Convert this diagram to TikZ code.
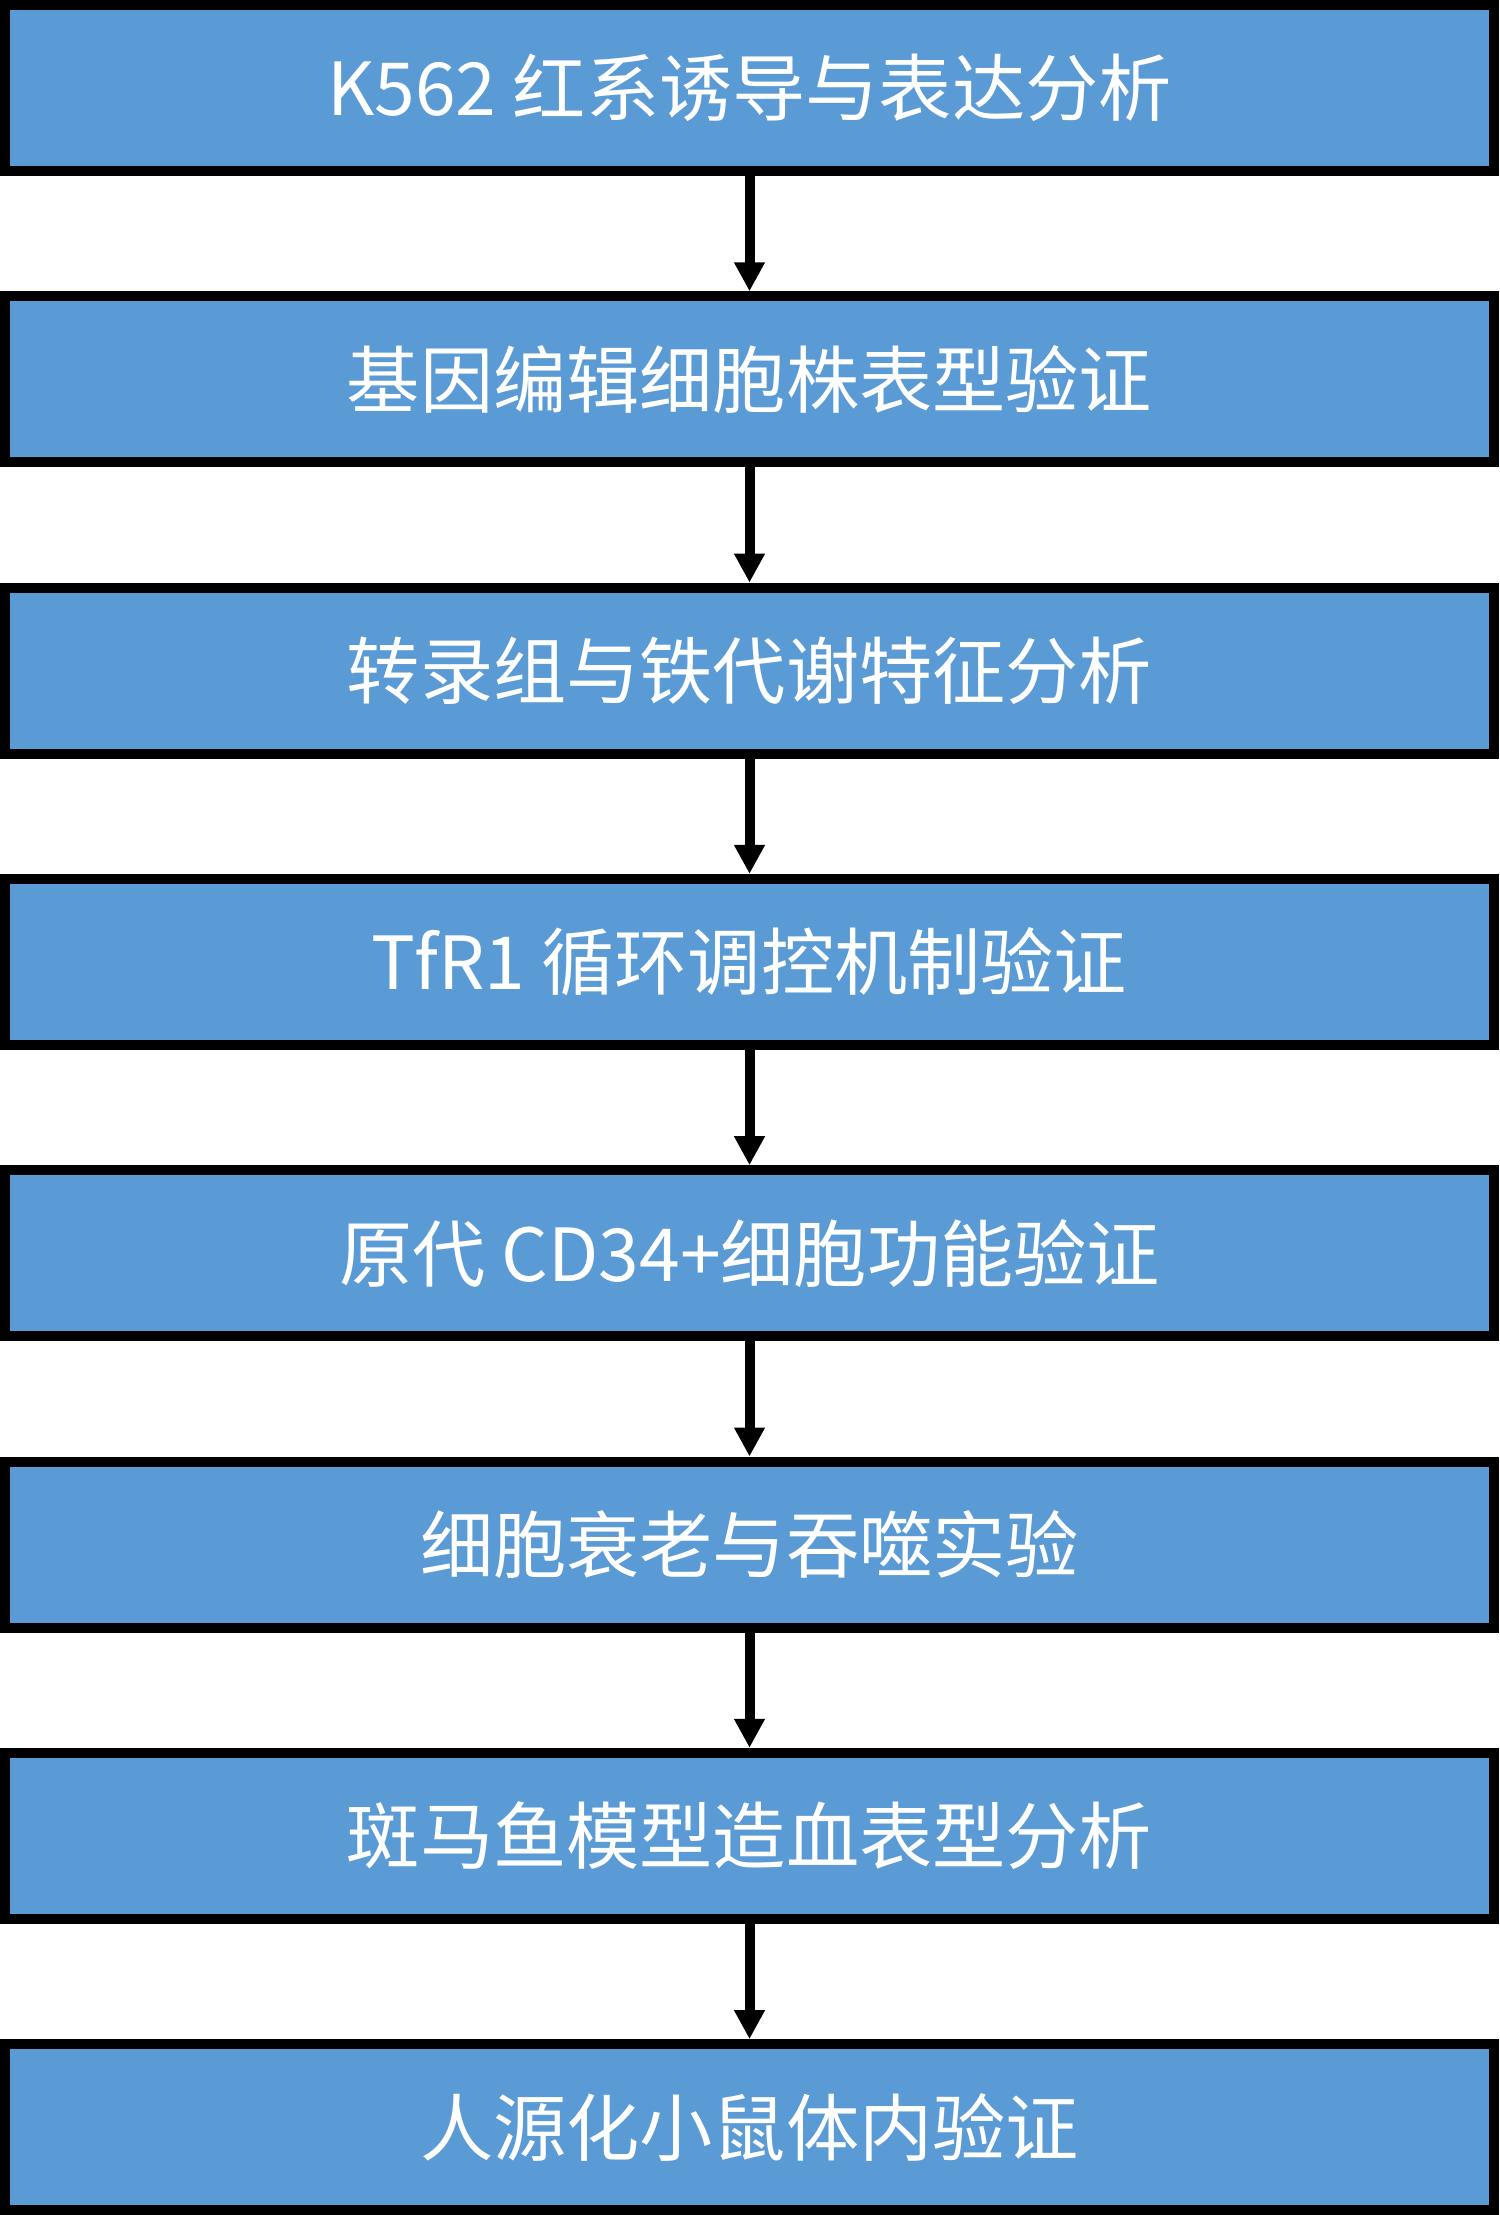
\documentclass[tikz,border=0pt]{standalone}
\usepackage{fontspec}
\newfontfamily\cjk{Noto Sans CJK SC}
\usetikzlibrary{arrows.meta}
\definecolor{boxblue}{HTML}{5B9BD5}
\tikzset{
  stepbox/.style={draw=black, line width=5pt, fill=boxblue, minimum width=744.5pt, minimum height=83pt,
    inner sep=0pt, text=white, font=\cjk\fontsize{36.6pt}{40pt}\selectfont},
  flow/.style={draw=black, line width=5pt, -{Triangle[length=14.5pt,width=14.5pt]}}
}
\begin{document}
\begin{tikzpicture}
\useasboundingbox (0,0) rectangle (749.5pt,-1107.5pt);
\node[stepbox] (b1) at (374.75pt,-44pt) {K562 红系诱导与表达分析};
\node[stepbox] (b2) at (374.75pt,-189.65pt) {基因编辑细胞株表型验证};
\node[stepbox] (b3) at (374.75pt,-335.3pt) {转录组与铁代谢特征分析};
\node[stepbox] (b4) at (374.75pt,-480.95pt) {TfR1 循环调控机制验证};
\node[stepbox] (b5) at (374.75pt,-626.6pt) {原代 CD34+细胞功能验证};
\node[stepbox] (b6) at (374.75pt,-772.25pt) {细胞衰老与吞噬实验};
\node[stepbox] (b7) at (374.75pt,-917.9pt) {斑马鱼模型造血表型分析};
\node[stepbox] (b8) at (374.75pt,-1063.55pt) {人源化小鼠体内验证};
\draw[flow] (b1) -- (b2);
\draw[flow] (b2) -- (b3);
\draw[flow] (b3) -- (b4);
\draw[flow] (b4) -- (b5);
\draw[flow] (b5) -- (b6);
\draw[flow] (b6) -- (b7);
\draw[flow] (b7) -- (b8);
\end{tikzpicture}
\end{document}
